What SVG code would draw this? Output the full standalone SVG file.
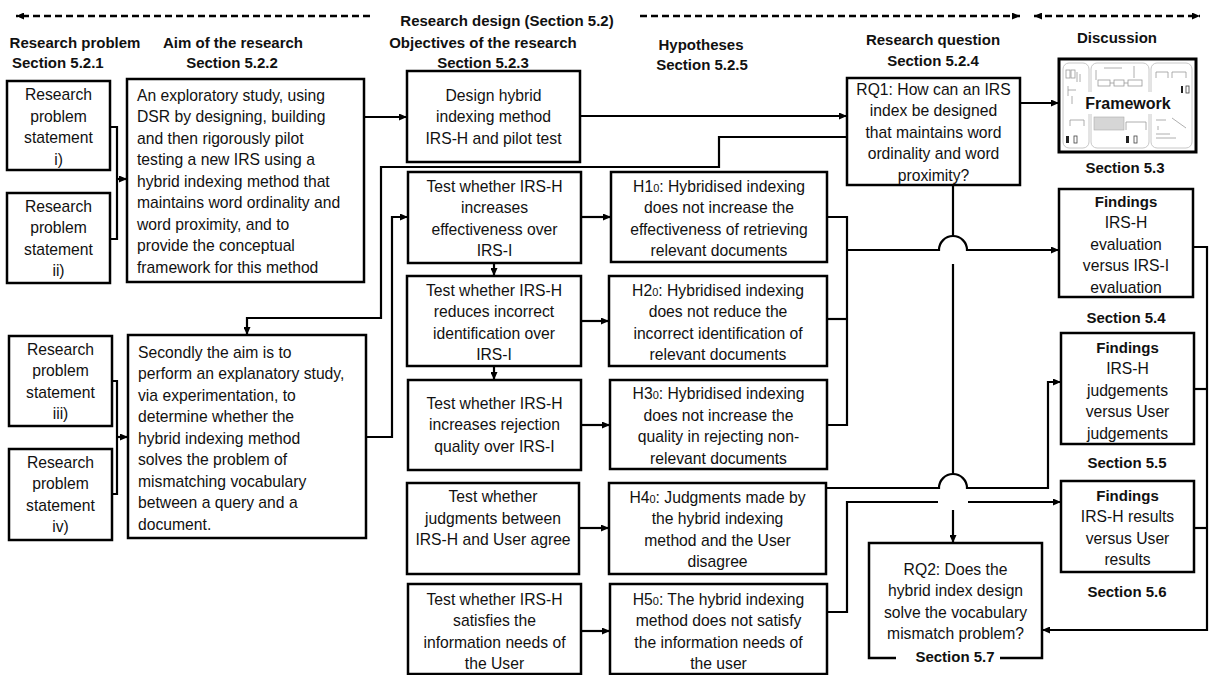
<svg xmlns="http://www.w3.org/2000/svg" width="1209" height="675" viewBox="0 0 1209 675">
  <defs>
    <marker id="arr" viewBox="0 0 8 7" refX="8" refY="3.5" markerWidth="8" markerHeight="7" markerUnits="userSpaceOnUse" orient="auto-start-reverse">
      <path d="M0,0 L8,3.5 L0,7 z" fill="#000"/>
    </marker>
    <style>
      .box { fill: #fff; stroke: #000; stroke-width: 2.5; }
      .t { font-family: "Liberation Sans", Arial, sans-serif; font-size: 15.7px; fill: #111; }
      .c { text-anchor: middle; }
      .h { font-family: "Liberation Sans", Arial, sans-serif; font-size: 15px; font-weight: bold; fill: #111; text-anchor: middle; }
      .sub { font-size: 11px; }
      .ln { fill: none; stroke: #000; stroke-width: 2.2; }
      .dash { fill: none; stroke: #000; stroke-width: 2.5; stroke-dasharray: 7 4; }
      .th { fill: none; stroke: #c8c8c8; stroke-width: 1; }
      .thf { fill: #d6d6d6; stroke: #aaa; stroke-width: 0.6; }
    </style>
  </defs>

  <!-- header bars -->
  <g id="header">
    <path class="dash" d="M370,16 H16" marker-end="url(#arr)"/>
    <path class="dash" d="M640,16 H1020" marker-end="url(#arr)"/>
    <path class="dash" d="M1034,16 H1200" marker-start="url(#arr)" marker-end="url(#arr)"/>
    <text class="h" x="507" y="26">Research design (Section 5.2)</text>
    <text class="h" x="75" y="48">Research problem</text>
    <text class="h" x="56" y="68" style="text-anchor:start" transform="translate(-44,0)">Section 5.2.1</text>
    <text class="h" x="233" y="48">Aim of the research</text>
    <text class="h" x="232" y="68">Section 5.2.2</text>
    <text class="h" x="483" y="48">Objectives of the research</text>
    <text class="h" x="483" y="68">Section 5.2.3</text>
    <text class="h" x="701" y="50">Hypotheses</text>
    <text class="h" x="702" y="70">Section 5.2.5</text>
    <text class="h" x="933" y="45">Research question</text>
    <text class="h" x="933" y="66">Section 5.2.4</text>
    <text class="h" x="1117" y="43">Discussion</text>
  </g>

  <!-- connectors -->
  <g id="connectors">
    <path class="ln" d="M110,127 H117 V239 H110"/>
    <path class="ln" d="M117,179 H127" marker-end="url(#arr)"/>
    <path class="ln" d="M112,381 H117 V494 H112"/>
    <path class="ln" d="M117,437 H128" marker-end="url(#arr)"/>
    <path class="ln" d="M364,117 H407" marker-end="url(#arr)"/>
    <path class="ln" d="M580,116 H847" marker-end="url(#arr)"/>
    <path class="ln" d="M847,137 H719 V167 H381 V318 H247 V335" marker-end="url(#arr)"/>
    <path class="ln" d="M366,437 H392 V217 H408" marker-end="url(#arr)"/>
    <path class="ln" d="M494,263 V276" marker-end="url(#arr)"/>
    <path class="ln" d="M494,366 V380" marker-end="url(#arr)"/>
    <path class="ln" d="M581,217 H611" marker-end="url(#arr)"/>
    <path class="ln" d="M581,321 H609" marker-end="url(#arr)"/>
    <path class="ln" d="M581,425 H610" marker-end="url(#arr)"/>
    <path class="ln" d="M579,528 H609" marker-end="url(#arr)"/>
    <path class="ln" d="M581,631 H610" marker-end="url(#arr)"/>
    <path class="ln" d="M827,217 H847 V425 H827"/>
    <path class="ln" d="M827,319 H847"/>
    <path class="ln" d="M847,250 H939 A14,14 0 0 1 967,250 H1059" marker-end="url(#arr)"/>
    <path class="ln" d="M1020,103 H1059" marker-end="url(#arr)"/>
    <path class="ln" d="M953,185 V236"/>
    <path class="ln" d="M953,264 V474"/>
    <path class="ln" d="M953,510 V543" marker-end="url(#arr)"/>
    <path class="ln" d="M826,488 H939 A14,14 0 0 1 967,488 H1048 V382 H1061" marker-end="url(#arr)"/>
    <path class="ln" d="M827,612 H847 V502 H938"/>
    <path class="ln" d="M968,502 H1061" marker-end="url(#arr)"/>
    <path class="ln" d="M1193,247 H1207 V630 H1042" marker-end="url(#arr)"/>
    <path class="ln" d="M1194,389 H1207"/>
    <path class="ln" d="M1194,528 H1207"/>
  </g>

  <!-- research problem statements -->
  <g id="ps1">
    <rect class="box" x="7" y="81" width="103" height="89"/>
    <text class="t c" x="58.5"><tspan x="58.5" y="100">Research</tspan><tspan x="58.5" y="121.5">problem</tspan><tspan x="58.5" y="143">statement</tspan><tspan x="58.5" y="164.5">i)</tspan></text>
  </g>
  <g id="ps2">
    <rect class="box" x="7" y="193" width="103" height="90"/>
    <text class="t c" x="58.5"><tspan x="58.5" y="211.5">Research</tspan><tspan x="58.5" y="233">problem</tspan><tspan x="58.5" y="254.5">statement</tspan><tspan x="58.5" y="276">ii)</tspan></text>
  </g>
  <g id="ps3">
    <rect class="box" x="9" y="336" width="103" height="90"/>
    <text class="t c" x="60.5"><tspan x="60.5" y="354.5">Research</tspan><tspan x="60.5" y="376">problem</tspan><tspan x="60.5" y="397.5">statement</tspan><tspan x="60.5" y="419">iii)</tspan></text>
  </g>
  <g id="ps4">
    <rect class="box" x="9" y="449" width="103" height="91"/>
    <text class="t c" x="60.5"><tspan x="60.5" y="467.5">Research</tspan><tspan x="60.5" y="489">problem</tspan><tspan x="60.5" y="510.5">statement</tspan><tspan x="60.5" y="532">iv)</tspan></text>
  </g>

  <!-- aims -->
  <g id="aim1">
    <rect class="box" x="127" y="79" width="237" height="203"/>
    <text class="t" x="137"><tspan x="137" y="100.5">An exploratory study, using</tspan><tspan x="137" y="122">DSR by designing, building</tspan><tspan x="137" y="143.5">and then rigorously pilot</tspan><tspan x="137" y="165">testing a new IRS using a</tspan><tspan x="137" y="186.5">hybrid indexing method that</tspan><tspan x="137" y="208">maintains word ordinality and</tspan><tspan x="137" y="229.5">word proximity, and to</tspan><tspan x="137" y="251">provide the conceptual</tspan><tspan x="137" y="272.5">framework for this method</tspan></text>
  </g>
  <g id="aim2">
    <rect class="box" x="128" y="335" width="238" height="203"/>
    <text class="t" x="138"><tspan x="138" y="357.5">Secondly the aim is to</tspan><tspan x="138" y="379">perform an explanatory study,</tspan><tspan x="138" y="400.5">via experimentation, to</tspan><tspan x="138" y="422">determine whether the</tspan><tspan x="138" y="443.5">hybrid indexing method</tspan><tspan x="138" y="465">solves the problem of</tspan><tspan x="138" y="486.5">mismatching vocabulary</tspan><tspan x="138" y="508">between a query and a</tspan><tspan x="138" y="529.5">document.</tspan></text>
  </g>

  <!-- objectives -->
  <g id="obj-design">
    <rect class="box" x="407" y="71" width="173" height="91"/>
    <text class="t c" x="493.5"><tspan x="493.5" y="100.5">Design hybrid</tspan><tspan x="493.5" y="122">indexing method</tspan><tspan x="493.5" y="143.5">IRS-H and pilot test</tspan></text>
  </g>
  <g id="obj-test1">
    <rect class="box" x="408" y="172" width="173" height="91"/>
    <text class="t c" x="494.5"><tspan x="494.5" y="191.5">Test whether IRS-H</tspan><tspan x="494.5" y="213">increases</tspan><tspan x="494.5" y="234.5">effectiveness over</tspan><tspan x="494.5" y="256">IRS-I</tspan></text>
  </g>
  <g id="obj-test2">
    <rect class="box" x="407" y="276" width="174" height="90"/>
    <text class="t c" x="494"><tspan x="494" y="295.5">Test whether IRS-H</tspan><tspan x="494" y="317">reduces incorrect</tspan><tspan x="494" y="338.5">identification over</tspan><tspan x="494" y="360">IRS-I</tspan></text>
  </g>
  <g id="obj-test3">
    <rect class="box" x="408" y="380" width="173" height="90"/>
    <text class="t c" x="494.5"><tspan x="494.5" y="408.5">Test whether IRS-H</tspan><tspan x="494.5" y="430">increases rejection</tspan><tspan x="494.5" y="451.5">quality over IRS-I</tspan></text>
  </g>
  <g id="obj-test4">
    <rect class="box" x="407" y="483" width="172" height="91"/>
    <text class="t c" x="493"><tspan x="493" y="502">Test whether</tspan><tspan x="493" y="523.5">judgments between</tspan><tspan x="493" y="545">IRS-H and User agree</tspan></text>
  </g>
  <g id="obj-test5">
    <rect class="box" x="408" y="584" width="173" height="90"/>
    <text class="t c" x="494.5"><tspan x="494.5" y="604.5">Test whether IRS-H</tspan><tspan x="494.5" y="626">satisfies the</tspan><tspan x="494.5" y="647.5">information needs of</tspan><tspan x="494.5" y="669">the User</tspan></text>
  </g>

  <!-- hypotheses -->
  <g id="hyp1">
    <rect class="box" x="611" y="172" width="216" height="90"/>
    <text class="t c" x="719"><tspan x="719" y="191.5">H1<tspan class="sub">0</tspan>: Hybridised indexing</tspan><tspan x="719" y="213">does not increase the</tspan><tspan x="719" y="234.5">effectiveness of retrieving</tspan><tspan x="719" y="256">relevant documents</tspan></text>
  </g>
  <g id="hyp2">
    <rect class="box" x="609" y="276" width="218" height="90"/>
    <text class="t c" x="718"><tspan x="718" y="295.5">H2<tspan class="sub">0</tspan>: Hybridised indexing</tspan><tspan x="718" y="317">does not reduce the</tspan><tspan x="718" y="338.5">incorrect identification of</tspan><tspan x="718" y="360">relevant documents</tspan></text>
  </g>
  <g id="hyp3">
    <rect class="box" x="610" y="380" width="217" height="89"/>
    <text class="t c" x="718.5"><tspan x="718.5" y="399">H3<tspan class="sub">0</tspan>: Hybridised indexing</tspan><tspan x="718.5" y="420.5">does not increase the</tspan><tspan x="718.5" y="442">quality in rejecting non-</tspan><tspan x="718.5" y="463.5">relevant documents</tspan></text>
  </g>
  <g id="hyp4">
    <rect class="box" x="609" y="483" width="217" height="91"/>
    <text class="t c" x="717.5"><tspan x="717.5" y="502.5">H4<tspan class="sub">0</tspan>: Judgments made by</tspan><tspan x="717.5" y="524">the hybrid indexing</tspan><tspan x="717.5" y="545.5">method and the User</tspan><tspan x="717.5" y="567">disagree</tspan></text>
  </g>
  <g id="hyp5">
    <rect class="box" x="610" y="584" width="217" height="90"/>
    <text class="t c" x="718.5"><tspan x="718.5" y="604.5">H5<tspan class="sub">0</tspan>: The hybrid indexing</tspan><tspan x="718.5" y="626">method does not satisfy</tspan><tspan x="718.5" y="647.5">the information needs of</tspan><tspan x="718.5" y="669">the user</tspan></text>
  </g>

  <!-- research questions -->
  <g id="rq1">
    <rect class="box" x="847" y="78" width="173" height="107"/>
    <text class="t c" x="933.5"><tspan x="933.5" y="94.5">RQ1: How can an IRS</tspan><tspan x="933.5" y="116">index be designed</tspan><tspan x="933.5" y="137.5">that maintains word</tspan><tspan x="933.5" y="159">ordinality and word</tspan><tspan x="933.5" y="180.5">proximity?</tspan></text>
  </g>
  <g id="rq2">
    <path class="box" style="fill:#fff" d="M896,658 H869 V543 H1042 V658 H1000"/>
    <text class="t c" x="955.5"><tspan x="955.5" y="574.5">RQ2: Does the</tspan><tspan x="955.5" y="596">hybrid index design</tspan><tspan x="955.5" y="617.5">solve the vocabulary</tspan><tspan x="955.5" y="639">mismatch problem?</tspan></text>
    <text class="h" x="955" y="662">Section 5.7</text>
  </g>

  <!-- framework thumbnail -->
  <g id="framework">
    <rect x="1059" y="59" width="137" height="93" fill="#fff" stroke="#000" stroke-width="3"/>
    <rect class="th" x="1063" y="63" width="26" height="85" rx="6"/>
    <rect class="th" x="1091" y="63" width="58" height="85" rx="6"/>
    <rect class="th" x="1151" y="63" width="41" height="85" rx="6"/>
    <g fill="none" stroke="#9a9a9a" stroke-width="0.8">
      <rect x="1066" y="70" width="4" height="8"/><rect x="1071" y="70" width="4" height="8"/>
      <path d="M1077,72 V82 M1080,74 V82 M1068,86 V96 M1068,90 H1076 M1072,96 V104 M1070,120 H1084 M1070,120 V126 M1084,120 V126"/>
      <rect x="1098" y="80" width="12" height="6"/><rect x="1114" y="80" width="10" height="6"/><rect x="1128" y="80" width="14" height="6"/>
      <path d="M1096,70 V80 M1104,68 H1122 M1134,66 V78 M1110,83 H1114 M1124,83 H1128"/>
      <path d="M1156,72 H1168 M1156,72 V78 M1168,72 V78 M1172,72 H1186 M1172,72 V78 M1186,72 V78"/>
      <path d="M1156,120 H1166 M1158,126 V130 M1172,118 L1186,128 M1156,134 H1170 M1156,138 H1176"/>
      <path d="M1126,122 H1146 M1126,122 V130 M1146,122 V130"/>
    </g>
    <rect class="thf" x="1094" y="117" width="30" height="13"/>
    <g fill="#222">
      <rect x="1066" y="136" width="3" height="7"/><rect x="1126" y="136" width="3" height="7"/>
      <rect x="1181" y="86" width="2" height="7"/>
    </g>
    <g fill="none" stroke="#444" stroke-width="0.8">
      <rect x="1074" y="136" width="3" height="7"/><rect x="1134" y="136" width="3" height="7"/>
      <rect x="1186" y="86" width="3" height="7"/>
    </g>
    <rect x="1083" y="92" width="90" height="22" fill="#fff"/>
    <text class="h" x="1128" y="109" style="font-size:16px">Framework</text>
  </g>
  <text class="h" x="1125" y="173">Section 5.3</text>

  <!-- findings -->
  <g id="find1">
    <rect class="box" x="1059" y="189" width="134" height="108"/>
    <text class="t c" x="1126"><tspan x="1126" y="206.5" style="font-weight:bold;font-size:15px">Findings</tspan><tspan x="1126" y="228">IRS-H</tspan><tspan x="1126" y="249.5">evaluation</tspan><tspan x="1126" y="271">versus IRS-I</tspan><tspan x="1126" y="292.5">evaluation</tspan></text>
  </g>
  <text class="h" x="1126" y="323">Section 5.4</text>
  <g id="find2">
    <rect class="box" x="1061" y="333" width="133" height="111"/>
    <text class="t c" x="1127.5"><tspan x="1127.5" y="352.5" style="font-weight:bold;font-size:15px">Findings</tspan><tspan x="1127.5" y="374">IRS-H</tspan><tspan x="1127.5" y="395.5">judgements</tspan><tspan x="1127.5" y="417">versus User</tspan><tspan x="1127.5" y="438.5">judgements</tspan></text>
  </g>
  <text class="h" x="1127" y="468">Section 5.5</text>
  <g id="find3">
    <rect class="box" x="1061" y="481" width="133" height="91"/>
    <text class="t c" x="1127.5"><tspan x="1127.5" y="500.5" style="font-weight:bold;font-size:15px">Findings</tspan><tspan x="1127.5" y="522">IRS-H results</tspan><tspan x="1127.5" y="543.5">versus User</tspan><tspan x="1127.5" y="565">results</tspan></text>
  </g>
  <text class="h" x="1127" y="597">Section 5.6</text>
</svg>
